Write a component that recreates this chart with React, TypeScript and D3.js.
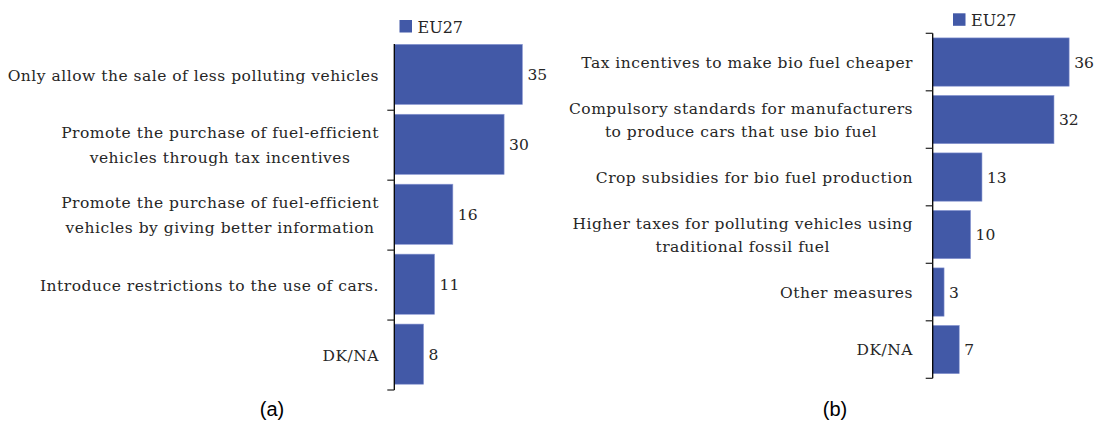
import React, { useEffect, useRef } from "react";
import * as d3 from "d3";

// ---- data ----
const leftCategories = [
  "Only allow the sale of less polluting vehicles",
  "Promote the purchase of fuel-efficient\nvehicles through tax incentives",
  "Promote the purchase of fuel-efficient\nvehicles by giving better information",
  "Introduce restrictions to the use of cars.",
  "DK/NA",
];
const leftValues = [35, 30, 16, 11, 8];

const rightCategories = [
  "Tax incentives to make bio fuel cheaper",
  "Compulsory standards for manufacturers\nto produce cars that use bio fuel",
  "Crop subsidies for bio fuel production",
  "Higher taxes for polluting vehicles using\ntraditional fossil fuel",
  "Other measures",
  "DK/NA",
];
const rightValues = [36, 32, 13, 10, 3, 7];

const seriesName = "EU27";
const captions = ["(a)", "(b)"];

const BAR = "#4259a7";
const TEXT = "#262626";
const SERIF = "'DejaVu Serif', serif";

type Panel = {
  cats: string[];
  vals: number[];
  axisX: number;
  pxPerUnit: number;
  bandTop: number;
  bandBottom: number;
  align: number;
  padding: number;
  labelRight: number;
  lineGap: number;
  topTick: boolean;
  axisTop: number;
  legendX: number;
  legendY: number;
  caption: string;
  captionX: number;
};

export default function App() {
  const ref = useRef<SVGSVGElement | null>(null);

  useEffect(() => {
    document.body.style.margin = "0";
    const svg = d3.select(ref.current);
    svg.selectAll("*").remove();

    const panels: Panel[] = [
      {
        cats: leftCategories, vals: leftValues, axisX: 394.3, pxPerUnit: 3.66,
        bandTop: 40.3, bandBottom: 390, align: 0.41, padding: 0.14,
        labelRight: 379, lineGap: 25, topTick: false, axisTop: 44,
        legendX: 399.5, legendY: 20, caption: captions[0], captionX: 272,
      },
      {
        cats: rightCategories, vals: rightValues, axisX: 932.7, pxPerUnit: 3.79,
        bandTop: 33.3, bandBottom: 378.3, align: 0.5, padding: 0.16,
        labelRight: 913, lineGap: 23, topTick: true, axisTop: 33.3,
        legendX: 953, legendY: 13.3, caption: captions[1], captionX: 835,
      },
    ];

    panels.forEach((p) => {
      const g = svg.append("g");
      const x = d3.scaleLinear().domain([0, 40]).range([p.axisX, p.axisX + 40 * p.pxPerUnit]);
      const y = d3
        .scaleBand<string>()
        .domain(p.cats)
        .range([p.bandTop, p.bandBottom])
        .paddingInner(p.padding)
        .paddingOuter(p.padding / 2)
        .align(p.align);
      const step = y.step();
      const bandStart = (c: string) => p.bandTop + p.cats.indexOf(c) * step;

      // bars
      g.selectAll("rect.bar")
        .data(p.cats)
        .join("rect")
        .attr("class", "bar")
        .attr("x", x(0))
        .attr("y", (c) => y(c) as number)
        .attr("width", (c, i) => x(p.vals[i]) - x(0))
        .attr("height", y.bandwidth())
        .attr("fill", BAR)
        .attr("stroke", "#8d9ad4")
        .attr("stroke-width", 0.6);

      // value labels
      g.selectAll("text.val")
        .data(p.cats)
        .join("text")
        .attr("class", "val")
        .attr("x", (c, i) => x(p.vals[i]) + 5)
        .attr("y", (c) => (y(c) as number) + y.bandwidth() / 2 + 5.5)
        .attr("font-family", SERIF)
        .attr("font-size", 15.5)
        .attr("fill", TEXT)
        .text((c, i) => String(p.vals[i]));

      // axis line
      g.append("line")
        .attr("x1", p.axisX).attr("x2", p.axisX)
        .attr("y1", p.axisTop).attr("y2", p.bandBottom)
        .attr("stroke", "#000").attr("stroke-width", 1.3);

      // ticks at band boundaries
      const bounds = d3.range(p.cats.length + 1).map((i) => p.bandTop + i * step);
      g.selectAll("line.tick")
        .data(bounds.filter((b, i) => i > 0 || p.topTick))
        .join("line")
        .attr("class", "tick")
        .attr("x1", p.axisX - 7).attr("x2", p.axisX)
        .attr("y1", (b) => b).attr("y2", (b) => b)
        .attr("stroke", "#222").attr("stroke-width", 1.2);

      // category labels (block right-aligned, lines centred)
      p.cats.forEach((c) => {
        const lines = c.split("\n");
        const center = bandStart(c) + step / 2;
        const t = g.append("text")
          .attr("font-family", SERIF)
          .attr("font-size", 15.5)
          .attr("letter-spacing", 0.5)
          .attr("fill", TEXT)
          .attr("text-anchor", "middle");
        const spans = lines.map((ln, i) =>
          t.append("tspan")
            .attr("y", center - ((lines.length - 1) * p.lineGap) / 2 + i * p.lineGap + 5.5)
            .text(ln)
        );
        const maxW = d3.max(spans, (s) => (s.node() as SVGTSpanElement).getComputedTextLength()) || 0;
        spans.forEach((s) => s.attr("x", p.labelRight - maxW / 2));
      });

      // legend
      g.append("rect")
        .attr("x", p.legendX).attr("y", p.legendY)
        .attr("width", 12.5).attr("height", 12.5)
        .attr("fill", BAR);
      g.append("text")
        .attr("x", p.legendX + 18).attr("y", p.legendY + 12.5)
        .attr("font-family", SERIF).attr("font-size", 16)
        .attr("fill", TEXT)
        .text(seriesName);

      // caption
      g.append("text")
        .attr("x", p.captionX).attr("y", 416)
        .attr("text-anchor", "middle")
        .attr("font-family", "'Liberation Sans', Arial, sans-serif")
        .attr("font-size", 20)
        .attr("fill", "#000")
        .text(p.caption);
    });
  }, []);

  return (
    <svg
      ref={ref}
      width={1095}
      height={422}
      style={{ display: "block", background: "#fff" }}
    />
  );
}
